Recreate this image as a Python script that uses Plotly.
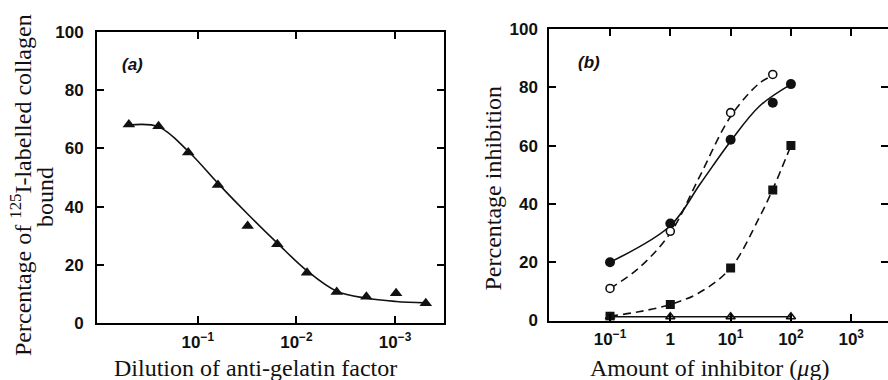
import plotly.graph_objects as go

W, H = 888, 380

# ---- Panel (a) data ----
dilution_a = [1/2, 1/4, 1/8, 1/16, 1/32, 1/64, 1/128, 1/256, 1/512, 1/1024, 1/2048]
bound_a = [68.2, 67.6, 58.6, 47.4, 33.4, 27.1, 17.3, 10.7, 9.1, 10.3, 6.9]
fit_a = [68.0, 67.4, 59.0, 48.0, 37.5, 27.5, 18.0, 11.0, 8.6, 7.5, 7.0]
xtick_vals_a = [1e-1, 1e-2, 1e-3]
xtick_text_a = ["10<sup>−1</sup>", "10<sup>−2</sup>", "10<sup>−3</sup>"]

# ---- Panel (b) data ----
amount = [0.1, 1, 10, 50, 100]
filled_circles = [20.0, 33.3, 62.0, 74.7, 81.1]
amount_open = [0.1, 1, 10, 50]
open_circles = [11.0, 30.6, 71.3, 84.4]
filled_squares = [1.5, 5.5, 18.0, 44.8, 60.0]
amount_tri = [0.1, 1, 10, 100]
open_triangles = [1.3, 1.3, 1.3, 1.3]

fit_x_filled = [0.1, 1, 3.16, 10, 30, 100]
fit_filled = [20.0, 32.5, 47.0, 61.5, 73.5, 81.0]
fit_x_open = [0.1, 0.3, 1, 3, 10, 30, 50]
fit_open = [11.0, 18.0, 30.0, 49.0, 70.0, 81.4, 84.0]
fit_x_sq = [0.1, 0.3, 1, 3, 10, 30, 50, 100]
fit_sq = [1.5, 3.0, 5.5, 9.5, 18.0, 35.4, 45.0, 60.0]

xtick_vals_b = [1e-1, 1, 1e1, 1e2, 1e3]
xtick_text_b = ["10<sup>−1</sup>", "1", "10<sup>1</sup>", "10<sup>2</sup>", "10<sup>3</sup>"]
ytick_vals = [0, 20, 40, 60, 80, 100]

BLACK = "#111111"
LW = 1.6
DASH = "8px,5px"

fig = go.Figure()

# Panel (a)
fig.add_trace(go.Scatter(x=dilution_a, y=fit_a, mode="lines", line=dict(color=BLACK, width=LW, shape="spline"),
                         xaxis="x", yaxis="y", hoverinfo="skip"))
fig.add_trace(go.Scatter(x=dilution_a, y=bound_a, mode="markers",
                         marker=dict(symbol="triangle-up", size=11, color=BLACK), xaxis="x", yaxis="y"))

# Panel (b)
fig.add_trace(go.Scatter(x=amount_tri, y=open_triangles, mode="lines+markers",
                         line=dict(color=BLACK, width=LW),
                         marker=dict(symbol="triangle-up-open", size=8, color=BLACK, line=dict(width=1.6)),
                         xaxis="x2", yaxis="y2"))
fig.add_trace(go.Scatter(x=fit_x_sq, y=fit_sq, mode="lines", line=dict(color=BLACK, width=LW, dash=DASH, shape="spline"),
                         xaxis="x2", yaxis="y2", hoverinfo="skip"))
fig.add_trace(go.Scatter(x=amount, y=filled_squares, mode="markers",
                         marker=dict(symbol="square", size=9, color=BLACK), xaxis="x2", yaxis="y2"))
fig.add_trace(go.Scatter(x=fit_x_open, y=fit_open, mode="lines", line=dict(color=BLACK, width=LW, dash=DASH, shape="spline"),
                         xaxis="x2", yaxis="y2", hoverinfo="skip"))
fig.add_trace(go.Scatter(x=fit_x_filled, y=fit_filled, mode="lines", line=dict(color=BLACK, width=LW, shape="spline"),
                         xaxis="x2", yaxis="y2", hoverinfo="skip"))
fig.add_trace(go.Scatter(x=amount, y=filled_circles, mode="markers",
                         marker=dict(symbol="circle", size=10, color=BLACK), xaxis="x2", yaxis="y2"))
fig.add_trace(go.Scatter(x=amount_open, y=open_circles, mode="markers",
                         marker=dict(symbol="circle", size=8, color="white", line=dict(color=BLACK, width=1.6)),
                         xaxis="x2", yaxis="y2"))

tickfont = dict(family="Liberation Sans", size=17, color=BLACK, weight="bold")
axis_common = dict(showline=True, linecolor="black", linewidth=2, mirror="ticks", ticks="inside",
                   ticklen=7, tickwidth=2, tickcolor="black", showgrid=False, zeroline=False,
                   tickfont=tickfont, automargin=False)

def px(x):
    return x / W

def py(y):
    return 1 - y / H

fig.update_layout(
    width=W, height=H, margin=dict(l=0, r=0, t=0, b=0, autoexpand=False),
    paper_bgcolor="white", plot_bgcolor="white", showlegend=False,
    xaxis=dict(type="log", domain=[px(97), px(444)], range=[0.022, -3.496],
               tickmode="array", tickvals=xtick_vals_a, ticktext=xtick_text_a,
               anchor="y", ticklabelstandoff=2, **axis_common),
    yaxis=dict(domain=[py(323.3), py(31.7)], range=[0, 100], tickmode="array", tickvals=ytick_vals,
               anchor="x", ticklabelstandoff=8, **axis_common),
    xaxis2=dict(type="log", domain=[px(549.3), 1.0], range=[-2.007, 3.61],
                tickmode="array", tickvals=xtick_vals_b, ticktext=xtick_text_b,
                anchor="y2", ticklabelstandoff=2, **axis_common),
    yaxis2=dict(domain=[py(320.5), py(29)], range=[0, 100], tickmode="array", tickvals=ytick_vals,
                anchor="x2", ticklabelstandoff=6, **axis_common),
)

serif = dict(family="Liberation Serif", size=24, color=BLACK)
annots = [
    dict(text="Dilution of anti-gelatin factor", x=px(255), y=py(368), font=serif),
    dict(text="Amount of inhibitor (<i>μ</i>g)", x=px(709), y=py(368), font=serif),
    dict(text="Percentage of <sup>125</sup>I-labelled collagen", x=px(21), y=py(185), font=serif, textangle=-90),
    dict(text="bound", x=px(45), y=py(197), font=serif, textangle=-90),
    dict(text="Percentage inhibition", x=px(493), y=py(188.5), font=serif, textangle=-90),
    dict(text="<b><i>(a)</i></b>", x=px(132), y=py(65), font=dict(family="Liberation Sans", size=17, color=BLACK)),
    dict(text="<b><i>(b)</i></b>", x=px(589), y=py(62), font=dict(family="Liberation Sans", size=17, color=BLACK)),
]
for a in annots:
    fig.add_annotation(xref="paper", yref="paper", showarrow=False, xanchor="center", yanchor="middle", **a)

fig.write_html("out.html", config={"displayModeBar": False},
               post_script="document.body.style.margin='0';document.body.style.overflow='hidden';")
